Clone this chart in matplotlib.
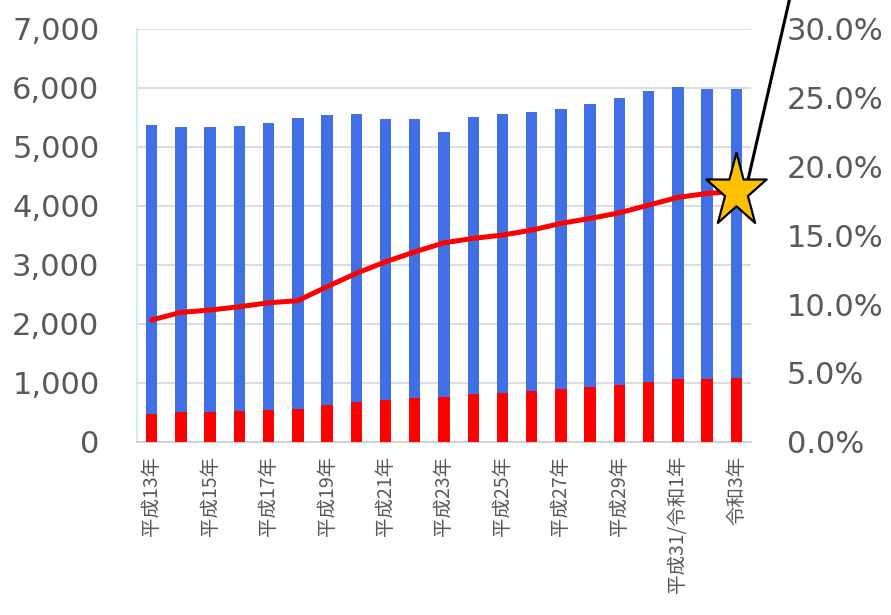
import matplotlib
matplotlib.use("Agg")
import matplotlib.pyplot as plt
from matplotlib.transforms import offset_copy
import numpy as np

years = ["平成13年", "平成14年", "平成15年", "平成16年", "平成17年", "平成18年",
         "平成19年", "平成20年", "平成21年", "平成22年", "平成23年", "平成24年",
         "平成25年", "平成26年", "平成27年", "平成28年", "平成29年", "平成30年",
         "平成31/令和1年", "令和2年", "令和3年"]
red_vals = [471, 500, 505, 522, 544, 561, 624, 680, 714, 748, 755, 811,
            828, 862, 896, 930, 964, 1020, 1066, 1071, 1088]
total_vals = [5374, 5335, 5340, 5352, 5398, 5488, 5539, 5551, 5466, 5466, 5245, 5505,
              5556, 5590, 5646, 5731, 5823, 5942, 6010, 5981, 5981]
ratio_vals = [8.85, 9.4, 9.57, 9.81, 10.1, 10.25, 11.27, 12.24, 13.08, 13.8, 14.46, 14.78,
              15.02, 15.38, 15.87, 16.23, 16.64, 17.2, 17.76, 18.05, 18.2]
left_ticks = [0, 1000, 2000, 3000, 4000, 5000, 6000, 7000]
right_ticks = [0, 5, 10, 15, 20, 25, 30]

blue_vals = [t - r for t, r in zip(total_vals, red_vals)]

TXT = "#595959"
fig = plt.figure(figsize=(8.91, 6.15), dpi=100)
ax = fig.add_axes([137/891, 1 - 441.7/615, (751-137)/891, (441.7-29)/615])
x = np.arange(len(years))
ax.bar(x, red_vals, width=0.39, color="#FF0000", zorder=3)
ax.bar(x, blue_vals, bottom=red_vals, width=0.39, color="#4170E6", zorder=3)
ax.set_xlim(-0.5, len(years) - 0.5)
ax.set_ylim(0, 7000)
ax.set_yticks(left_ticks)
ax.set_yticklabels([f"{v:,}" for v in left_ticks])
ax.yaxis.grid(True, color="#D9D9D9", lw=1.3, zorder=0)
ax.set_axisbelow(True)
for s in ["top", "right"]:
    ax.spines[s].set_visible(False)
ax.spines["left"].set_color("#CDE6E8")
ax.spines["left"].set_linewidth(1.2)
ax.spines["bottom"].set_color("#D0D0D0")
ax.spines["bottom"].set_linewidth(1.3)
ax.tick_params(axis="y", length=0, pad=27, labelsize=22, labelcolor=TXT)
ax.set_xticks(x[::2])
ax.set_xticklabels(years[::2], rotation=90, fontsize=14, color=TXT,
                   family=["Noto Sans CJK JP", "DejaVu Sans"], va="top")
ax.tick_params(axis="x", length=0, pad=10)

ax2 = ax.twinx()
ax2.set_ylim(0, 30)
ax2.set_yticks(right_ticks)
ax2.set_yticklabels([f"{v:.1f}%" for v in right_ticks])
ax2.tick_params(axis="y", length=0, pad=26, labelsize=22, labelcolor=TXT)
for s in ax2.spines.values():
    s.set_visible(False)
ax2.plot(x, ratio_vals, color="#FF0000", lw=3.6, solid_capstyle="round",
         solid_joinstyle="round", zorder=4)

# stretched star marker
ang = np.pi / 2 + np.arange(10) * np.pi / 5
rad = np.where(np.arange(10) % 2 == 0, 1.0, 0.38)
sx = rad * np.cos(ang)
sy = rad * np.sin(ang) * 1.227
verts = list(zip(sx, sy)) + [(sx[0], sy[0])]

start_tr = offset_copy(ax2.transData, fig=fig, x=6.5, y=0, units="points")
ax2.annotate("", xy=(x[-1], ratio_vals[-1]), xycoords=start_tr,
             xytext=(34, 148), textcoords="offset points",
             arrowprops=dict(arrowstyle="-", color="black", lw=2.2,
                             shrinkA=0, shrinkB=0), annotation_clip=False, zorder=5)
ax2.plot([x[-1]], [ratio_vals[-1]], marker=verts, markersize=56, color="#FFC000",
         markeredgecolor="black", markeredgewidth=1.6, zorder=6, clip_on=False)

fig.savefig("out.png", dpi=100)
